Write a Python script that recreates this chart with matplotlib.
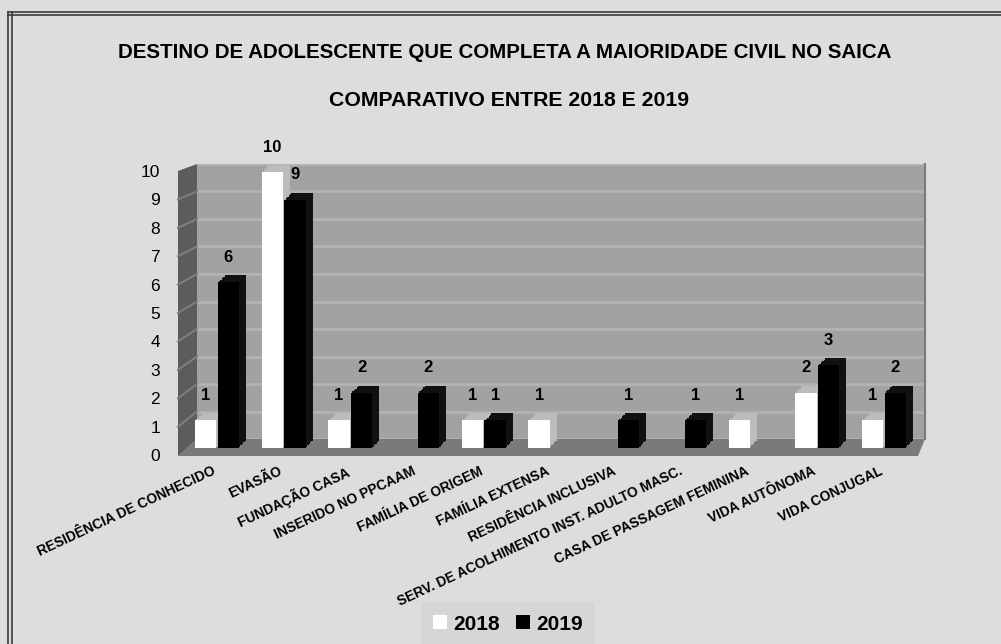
import matplotlib
matplotlib.use('Agg')
import matplotlib.pyplot as plt
from matplotlib.patches import Polygon, Patch
from matplotlib.lines import Line2D
import matplotlib.patheffects as pe
import matplotlib.transforms as mtransforms
import numpy as np

categories = ["RESIDÊNCIA DE CONHECIDO", "EVASÃO", "FUNDAÇÃO CASA", "INSERIDO NO PPCAAM",
              "FAMÍLIA DE ORIGEM", "FAMÍLIA EXTENSA", "RESIDÊNCIA INCLUSIVA",
              "SERV. DE ACOLHIMENTO INST. ADULTO MASC.", "CASA DE PASSAGEM FEMININA",
              "VIDA AUTÔNOMA", "VIDA CONJUGAL"]
values_2018 = [1, 10, 1, 0, 1, 1, 0, 0, 1, 2, 1]
values_2019 = [6, 9, 2, 2, 1, 0, 1, 1, 0, 3, 2]
series_labels = ["2018", "2019"]
title = "DESTINO DE ADOLESCENTE QUE COMPLETA A MAIORIDADE CIVIL NO SAICA"
subtitle = "COMPARATIVO ENTRE 2018 E 2019"
y_ticks = list(range(0, 11))

W, H = 1001, 644
plt.rcParams['font.family'] = ['Liberation Sans', 'DejaVu Sans']
fig = plt.figure(figsize=(W / 100, H / 100), dpi=100, facecolor='#dddddd')


def fx(x):
    return x / W


def fy(y):
    return 1 - y / H


def rect(x0, y0, x1, y1):
    return [fx(x0), fy(y1), fx(x1) - fx(x0), fy(y0) - fy(y1)]


# ---- back wall ----
ax_bg = fig.add_axes(rect(197, 164, 925, 439))
ax_bg.set_facecolor('#a2a2a2')
ax_bg.set_xlim(0, 1)
ax_bg.set_ylim(0, 10)
ax_bg.set_yticks(y_ticks)
ax_bg.set_xticks([])
ax_bg.tick_params(length=0, labelleft=False)
ax_bg.grid(axis='y', color='#b3b3b3', linewidth=2)
for s in ['top', 'left', 'bottom']:
    ax_bg.spines[s].set_visible(False)
ax_bg.spines['right'].set_color('#7a7a7a')
ax_bg.spines['right'].set_linewidth(1.5)
ax_bg.set_zorder(0)

tf = fig.transFigure
# floor
floor = Polygon([(fx(178), fy(456)), (fx(197), fy(439)), (fx(925), fy(439)), (fx(918), fy(456))],
                closed=True, facecolor='#7a7a7a', edgecolor='none', transform=tf, clip_on=False)
ax_bg.add_artist(floor)
# side wall
side = Polygon([(fx(178), fy(171)), (fx(197), fy(164)), (fx(197), fy(439)), (fx(178), fy(456))],
               closed=True, facecolor='#5c5c5c', edgecolor='none', transform=tf, clip_on=False)
ax_bg.add_artist(side)
for v in y_ticks[1:-1]:
    ax_bg.add_artist(Line2D([fx(197), fx(178)], [fy(439 - 27.5 * v), fy(455 - 28.4 * v)],
                            color='#7e7e7e', lw=1.5, transform=tf, clip_on=False))

# ---- bars (front plane) ----
ax = fig.add_axes(rect(178, 164, 918, 455))
ax.set_zorder(2)
ax.patch.set_visible(False)
ax.set_xlim(-0.585, 10.51)
ax.set_ylim(-0.2536, 10.29)
ax.axis('off')

x = np.arange(len(categories))
off = 0.17
bw = 0.32


def depth(color):
    return [pe.SimplePatchShadow(offset=(k, k), shadow_rgbFace=color, alpha=1.0)
            for k in (5, 4, 3, 2, 1)] + [pe.Normal()]


b1 = ax.bar(x - off, values_2018, bw, color='white', edgecolor='none')
for p in b1:
    p.set_path_effects(depth('#bcbcbc'))
b2 = ax.bar(x + off, values_2019, bw, color='black', edgecolor='none')
for p in b2:
    p.set_path_effects(depth('#111111'))

for xi, v in zip(x - off, values_2018):
    if v:
        ax.annotate(str(v), (xi, v), xytext=(0, 18), textcoords='offset points',
                    ha='center', va='center', fontsize=12, fontweight='bold')
for xi, v in zip(x + off, values_2019):
    if v:
        ax.annotate(str(v), (xi, v), xytext=(0, 18), textcoords='offset points',
                    ha='center', va='center', fontsize=12, fontweight='bold')

trans = mtransforms.blended_transform_factory(ax.transData, ax.transAxes) + \
    mtransforms.ScaledTranslation(-5 / 100, -9 / 100, fig.dpi_scale_trans)
for xi, lab in zip(x, categories):
    ax.text(xi, 0, lab, transform=trans, rotation=25, rotation_mode='anchor',
            ha='right', va='top', fontsize=9.9, fontweight='bold')

# ---- y tick labels ----
ax_lab = fig.add_axes(rect(178, 171, 179, 455))
ax_lab.set_ylim(0, 10)
ax_lab.set_yticks(y_ticks)
ax_lab.set_xticks([])
ax_lab.tick_params(axis='y', length=0, pad=13, labelsize=12.5)
for s in ax_lab.spines.values():
    s.set_visible(False)
ax_lab.patch.set_visible(False)

# ---- titles ----
fig.text(fx(505), fy(52), title, ha='center', va='center', fontsize=14.8, fontweight='bold')
fig.text(fx(509), fy(100), subtitle, ha='center', va='center', fontsize=15.3, fontweight='bold')

# ---- legend ----
handles = [Patch(facecolor='white', edgecolor='none'), Patch(facecolor='black', edgecolor='none')]
leg = fig.legend(handles, series_labels, loc='center', bbox_to_anchor=(fx(508), fy(624)),
                 ncol=2, frameon=True, prop={'weight': 'bold', 'size': 15},
                 handlelength=0.65, handleheight=0.65, handletextpad=0.3,
                 columnspacing=0.8, borderpad=0.6, fancybox=False)
leg.get_frame().set_facecolor('#d5d5d5')
leg.get_frame().set_edgecolor('none')

# ---- border ----
for yy in (12, 15):
    fig.add_artist(Line2D([fx(8), 1], [fy(yy), fy(yy)], color='#3a3a3a', lw=1.2, transform=tf))
for xx in (8, 12):
    fig.add_artist(Line2D([fx(xx), fx(xx)], [fy(12), 0], color='#3a3a3a', lw=1.2, transform=tf))

fig.savefig('out.png', dpi=100, facecolor=fig.get_facecolor())
